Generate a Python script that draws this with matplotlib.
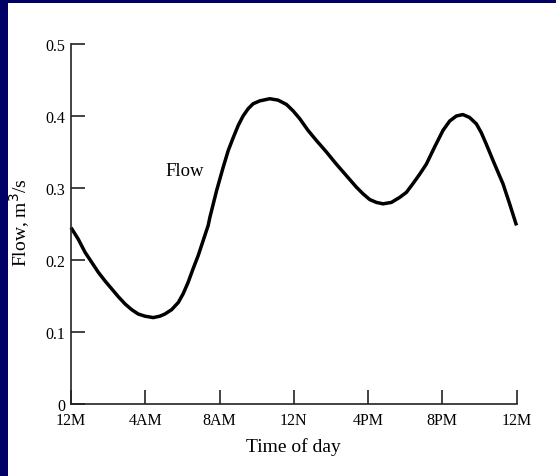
import matplotlib
matplotlib.use('Agg')
import matplotlib.pyplot as plt
from matplotlib.patches import Rectangle

"""
    flow vs time of day (read off the scanned figure)
"""

# hour of day and flow (m3/s)
hours = [0.0, 0.39, 0.75, 1.11, 1.47, 1.83, 2.19, 2.55, 2.91, 3.27,
         3.62, 3.98, 4.43, 4.79, 5.06, 5.42, 5.78, 6.04, 6.31, 6.58,
         6.85, 7.12, 7.39, 7.48, 7.84, 8.20, 8.47, 8.74, 9.01, 9.27,
         9.54, 9.81, 10.17, 10.71, 11.16, 11.61, 11.97, 12.33, 12.77, 13.22,
         13.76, 14.30, 14.84, 15.38, 15.73, 16.09, 16.45, 16.81, 17.26, 17.71,
         18.07, 18.42, 18.78, 19.14, 19.59, 20.04, 20.40, 20.76, 21.11, 21.47,
         21.84, 22.10, 22.37, 22.82, 23.27, 23.63, 24.0]
flow = [0.245, 0.229, 0.211, 0.197, 0.183, 0.171, 0.160, 0.149, 0.139, 0.131,
        0.125, 0.122, 0.120, 0.122, 0.125, 0.131, 0.141, 0.153, 0.169, 0.188,
        0.206, 0.227, 0.248, 0.259, 0.296, 0.329, 0.352, 0.370, 0.387, 0.400,
        0.410, 0.417, 0.421, 0.424, 0.422, 0.416, 0.407, 0.396, 0.380, 0.366,
        0.350, 0.333, 0.317, 0.301, 0.292, 0.284, 0.280, 0.278, 0.280, 0.287,
        0.294, 0.306, 0.319, 0.333, 0.357, 0.380, 0.393, 0.400, 0.402, 0.398,
        0.389, 0.377, 0.361, 0.333, 0.306, 0.278, 0.248]

x_ticks = [0, 4, 8, 12, 16, 20, 24]
x_labels = ['12M', '4AM', '8AM', '12N', '4PM', '8PM', '12M']
y_ticks = [0, 0.1, 0.2, 0.3, 0.4, 0.5]
y_labels = ['0', '0.1', '0.2', '0.3', '0.4', '0.5']

plt.rcParams['font.family'] = ['Liberation Serif', 'DejaVu Serif']


def make_plot():
    fig = plt.figure(figsize=(5.56, 4.77), dpi=100)
    fig.patch.set_facecolor('#000066')
    # white "page" inside the navy frame
    page = Rectangle((8 / 556, 0), 1, 473 / 477, transform=fig.transFigure,
                     facecolor='white', edgecolor='none', zorder=-5)
    fig.patches.append(page)

    ax = fig.add_axes([71 / 556, 72 / 477, 445.5 / 556, 360 / 477])
    ax.set_zorder(2)
    ax.set_facecolor('none')
    ax.plot(hours, flow, color='black', lw=2.5, solid_joinstyle='round',
            solid_capstyle='butt', clip_on=False)

    ax.set_xlim(0, 24)
    ax.set_ylim(0, 0.5)
    ax.set_xticks(x_ticks)
    ax.set_xticklabels(x_labels)
    ax.set_yticks(y_ticks)
    ax.set_yticklabels(y_labels)

    for side in ['top', 'right']:
        ax.spines[side].set_visible(False)
    for side in ['left', 'bottom']:
        ax.spines[side].set_linewidth(1.2)
        ax.spines[side].set_color('#222222')
    ax.tick_params(direction='in', length=10, width=1.2, color='#222222',
                   labelsize=11.5, pad=4)
    ax.tick_params(axis='x', pad=5.5)

    ax.set_xlabel('Time of day', fontsize=14, labelpad=7)
    ax.set_ylabel('Flow, m$^3$/s', fontsize=14)
    ax.yaxis.set_label_coords(-0.088, 0.506)
    ax.text(6.14, 0.324, 'Flow', fontsize=13.5, ha='center', va='center')

    fig.savefig('out.png', dpi=100, facecolor=fig.get_facecolor())


def main():
    make_plot()


if __name__ == '__main__':
    main()
